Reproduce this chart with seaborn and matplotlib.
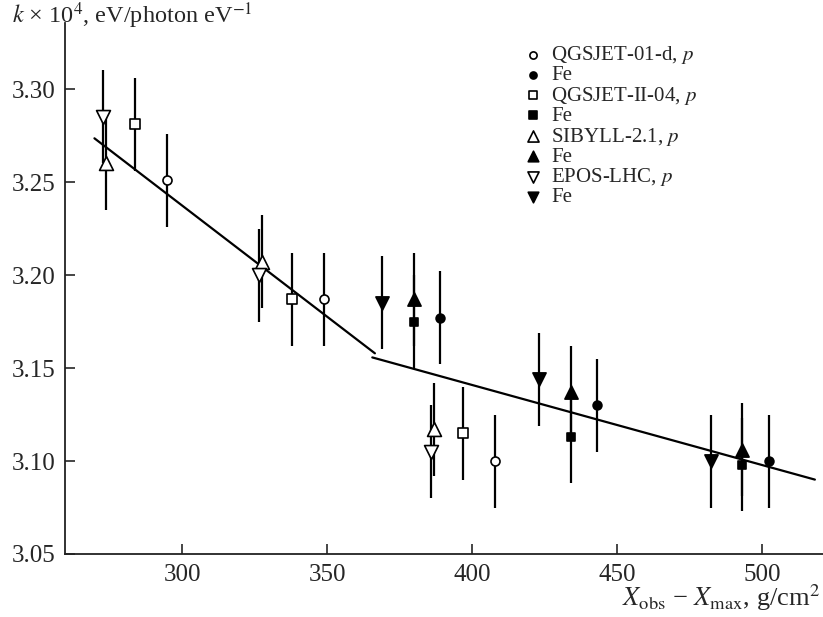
import matplotlib
matplotlib.use("Agg")
import matplotlib.pyplot as plt
import pandas as pd
import seaborn as sns

# Depth X_obs - X_max (g/cm^2) and k x 10^4 for each model / primary
qgs01_p_x = [294.6, 348.8, 407.8]
qgs01_p_k = [3.251, 3.187, 3.100]
qgs01_fe_x = [388.9, 443.0, 502.2]
qgs01_fe_k = [3.177, 3.130, 3.100]

qgs2_p_x = [283.6, 337.7, 396.9]
qgs2_p_k = [3.281, 3.187, 3.115]
qgs2_fe_x = [379.9, 433.9, 493.1]
qgs2_fe_k = [3.175, 3.113, 3.098]

sib_p_x = [273.6, 327.6, 386.9]
sib_p_k = [3.260, 3.207, 3.117]
sib_fe_x = [379.9, 433.9, 493.1]
sib_fe_k = [3.187, 3.137, 3.106]

epos_p_x = [272.7, 326.6, 385.8]
epos_p_k = [3.285, 3.200, 3.105]
epos_fe_x = [369.0, 423.0, 482.2]
epos_fe_k = [3.185, 3.144, 3.100]

k_err = 0.025

# two straight-line fits
fit1_x = [269.7, 366.4]
fit1_k = [3.2735, 3.1579]
fit2_x = [365.5, 518.1]
fit2_k = [3.1557, 3.090]

labels = ["QGSJET-01-d, $p$", "Fe", "QGSJET-II-04, $p$", "Fe",
          "SIBYLL-2.1, $p$", "Fe", "EPOS-LHC, $p$", "Fe"]

series = [
    (qgs01_p_x, qgs01_p_k, "o", 42, False),
    (qgs01_fe_x, qgs01_fe_k, "o", 40, True),
    (qgs2_p_x, qgs2_p_k, "s", 50, False),
    (qgs2_fe_x, qgs2_fe_k, "s", 40, True),
    (sib_p_x, sib_p_k, "^", 100, False),
    (sib_fe_x, sib_fe_k, "^", 90, True),
    (epos_p_x, epos_p_k, "v", 100, False),
    (epos_fe_x, epos_fe_k, "v", 90, True),
]

sns.set_style("ticks")
plt.rcParams["font.family"] = ["Liberation Serif", "DejaVu Serif"]
plt.rcParams["mathtext.fontset"] = "stix"

fig = plt.figure(figsize=(8.23, 6.17), dpi=100)
ax = fig.add_axes([65 / 823, 63 / 617, 758 / 823, 531 / 617])

# fitted lines
for fx, fk in [(fit1_x, fit1_k), (fit2_x, fit2_k)]:
    sns.lineplot(x=fx, y=fk, color="black", linewidth=1.6, ax=ax, zorder=2)

handles = []
for (xs, ks, m, s, filled), lab in zip(series, labels):
    ax.errorbar(xs, ks, yerr=k_err, fmt="none", ecolor="black",
                elinewidth=1.6, capsize=0, zorder=1)
    sns.scatterplot(x=xs, y=ks, marker=m, s=s, ax=ax, zorder=3,
                    color="black" if filled else "white",
                    edgecolor="black", linewidth=1.2)
    handles.append(ax.collections[-1])

leg = ax.legend(handles, labels, loc="upper left",
                bbox_to_anchor=(520 / 823, 1 - 44 / 617),
                bbox_transform=fig.transFigure, frameon=False,
                fontsize=15, labelspacing=-0.02, handletextpad=0.3,
                handlelength=1.2, borderpad=0, borderaxespad=0,
                markerscale=0.8)

ax.set_xlim(259.55, 520.9)
ax.set_ylim(3.05, 3.3355)
ax.set_xticks([300, 350, 400, 450, 500])
ax.set_yticks([3.05, 3.10, 3.15, 3.20, 3.25, 3.30])
ax.set_yticklabels(["3.05", "3.10", "3.15", "3.20", "3.25", "3.30"])
ax.tick_params(direction="in", length=7, width=1.2, labelsize=18, pad=7)
for side in ["top", "right"]:
    ax.spines[side].set_visible(False)
for side in ["left", "bottom"]:
    ax.spines[side].set_linewidth(1.3)
    ax.spines[side].set_color("#222222")

fig.text(12 / 823, 1 - 23 / 617, r"$k$ × 10$^4$, eV/photon eV$^{-1}$",
         fontsize=17.5, va="baseline", ha="left")
fig.text(820 / 823, 1 - 606 / 617,
         r"$X_{\mathrm{obs}}$ − $X_{\mathrm{max}}$, g/cm$^2$",
         fontsize=19, va="baseline", ha="right")

fig.savefig("out.png", dpi=100)
